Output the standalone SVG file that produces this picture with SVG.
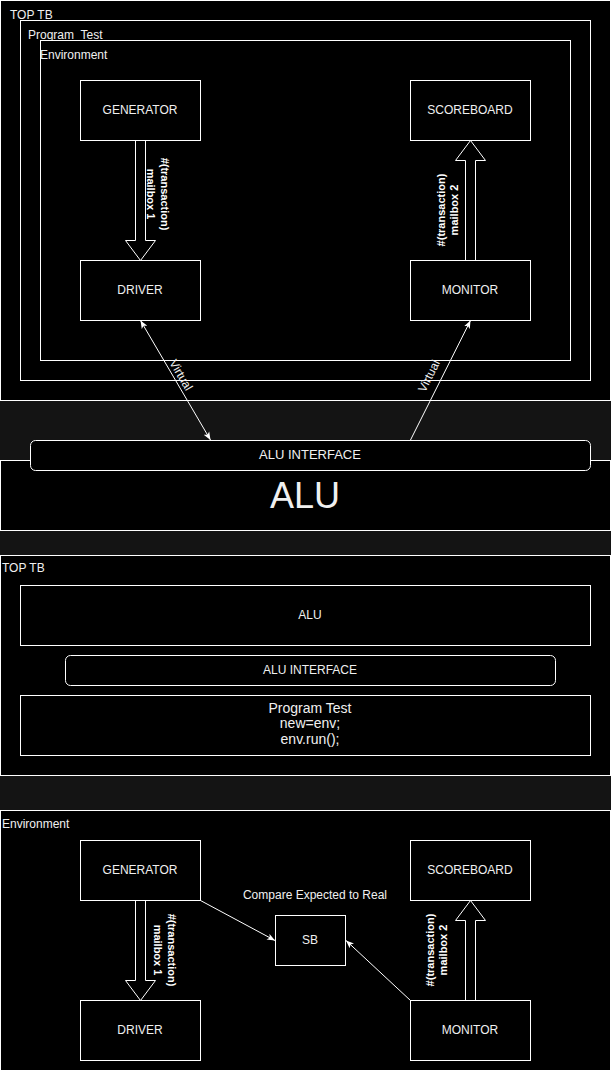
<svg xmlns="http://www.w3.org/2000/svg" width="611" height="1071" viewBox="0 0 611 1071">
<style>
.c{fill:#000;stroke:#fff;stroke-width:1}
.t{font-family:"Liberation Sans",Arial,sans-serif;font-size:12px;fill:#f0f0f0}
.m{text-anchor:middle}
.b{font-family:"Liberation Sans",Arial,sans-serif;font-size:11px;font-weight:bold;fill:#fff;text-anchor:middle}
.l{stroke:#fff;stroke-width:1;fill:none}
.fa{fill:#000;stroke:#fff;stroke-width:1}
</style>
<defs>
<marker id="arr" viewBox="0 0 10 8" refX="10" refY="4" markerWidth="8" markerHeight="7" markerUnits="userSpaceOnUse" orient="auto-start-reverse">
<path d="M0,0 L10,4 L0,8 L2.5,4 Z" fill="#fff"/>
</marker>
</defs>
<rect x="0" y="0" width="611" height="1071" fill="#141414"/>
<!-- containers -->
<g id="toptb1"><rect class="c" x="0.5" y="0.5" width="610" height="400"/><text class="t" x="10" y="19">TOP TB</text></g>
<g id="progtest1"><rect class="c" x="20.5" y="20.5" width="570" height="360"/><text class="t" x="28" y="39" xml:space="preserve">Program  Test</text></g>
<g id="env1"><rect class="c" x="40.5" y="40.5" width="530" height="320"/><text class="t" x="40" y="59">Environment</text></g>
<g id="alu1"><rect class="c" x="0.5" y="460.5" width="610" height="70"/><text class="t m" x="305" y="508" style="font-size:36px">ALU</text></g>
<g id="toptb2"><rect class="c" x="0.5" y="555.5" width="610" height="220"/><text class="t" x="2" y="572">TOP TB</text></g>
<g id="env2"><rect class="c" x="0.5" y="810.5" width="610" height="260"/><text class="t" x="2" y="828">Environment</text></g>
<!-- connectors -->
<g id="connectors">
<path class="fa" d="M135.5,140.5 L135.5,240.5 L125.5,240.5 L140.5,260.5 L155.5,240.5 L145.5,240.5 L145.5,140.5 Z"/>
<g transform="translate(158,194) rotate(90)"><text class="b" x="0" y="-3">#(transaction)</text><text class="b" x="0" y="11">mailbox 1</text></g>
<path class="fa" d="M465.5,260.5 L465.5,160.5 L455.5,160.5 L470.5,140.5 L485.5,160.5 L475.5,160.5 L475.5,260.5 Z"/>
<g transform="translate(447,210) rotate(-90)"><text class="b" x="0" y="-2">#(transaction)</text><text class="b" x="0" y="11">mailbox 2</text></g>
<line class="l" x1="140.5" y1="320.5" x2="210.5" y2="440" marker-start="url(#arr)" marker-end="url(#arr)"/>
<text class="t m" transform="translate(181,375) rotate(59.7)" x="0" y="4">Virtual</text>
<line class="l" x1="410.5" y1="440" x2="470.5" y2="320.5" marker-end="url(#arr)"/>
<text class="t m" transform="translate(429,376) rotate(-63.4)" x="0" y="4">Virtual</text>
<path class="fa" d="M135.5,900.5 L135.5,980.5 L125.5,980.5 L140.5,1000.5 L155.5,980.5 L145.5,980.5 L145.5,900.5 Z"/>
<g transform="translate(164,950) rotate(90)"><text class="b" x="0" y="-4">#(transaction)</text><text class="b" x="0" y="10">mailbox 1</text></g>
<path class="fa" d="M465.5,1000.5 L465.5,920.5 L455.5,920.5 L470.5,900.5 L485.5,920.5 L475.5,920.5 L475.5,1000.5 Z"/>
<g transform="translate(436,950) rotate(-90)"><text class="b" x="0" y="-2">#(transaction)</text><text class="b" x="0" y="11">mailbox 2</text></g>
<line class="l" x1="200.5" y1="900.5" x2="275" y2="940.5" marker-end="url(#arr)"/>
<line class="l" x1="410.5" y1="1000.5" x2="346" y2="940.5" marker-end="url(#arr)"/>
</g>
<!-- nodes -->
<g id="gen1"><rect class="c" x="80.5" y="80.5" width="120" height="60"/><text class="t m" x="140" y="114">GENERATOR</text></g>
<g id="sb1"><rect class="c" x="410.5" y="80.5" width="120" height="60"/><text class="t m" x="470" y="114">SCOREBOARD</text></g>
<g id="drv1"><rect class="c" x="80.5" y="260.5" width="120" height="60"/><text class="t m" x="140" y="294">DRIVER</text></g>
<g id="mon1"><rect class="c" x="410.5" y="260.5" width="120" height="60"/><text class="t m" x="470" y="294">MONITOR</text></g>
<g id="aluif1"><rect class="c" x="30.5" y="440.5" width="560" height="30" rx="5"/><text class="t m" x="310" y="459" style="font-size:13px">ALU INTERFACE</text></g>
<g id="alu2"><rect class="c" x="20.5" y="585.5" width="570" height="60"/><text class="t m" x="310" y="619">ALU</text></g>
<g id="aluif2"><rect class="c" x="65.5" y="655.5" width="490" height="30" rx="5"/><text class="t m" x="310" y="674">ALU INTERFACE</text></g>
<g id="progtest2"><rect class="c" x="20.5" y="695.5" width="570" height="60"/><text class="t m" style="font-size:14px" x="310" y="713">Program Test</text><text class="t m" style="font-size:14px" x="310" y="728">new=env;</text><text class="t m" style="font-size:14px" x="310" y="744">env.run();</text></g>
<g id="gen2"><rect class="c" x="80.5" y="840.5" width="120" height="60"/><text class="t m" x="140" y="874">GENERATOR</text></g>
<g id="sb2"><rect class="c" x="410.5" y="840.5" width="120" height="60"/><text class="t m" x="470" y="874">SCOREBOARD</text></g>
<g id="drv2"><rect class="c" x="80.5" y="1000.5" width="120" height="60"/><text class="t m" x="140" y="1034">DRIVER</text></g>
<g id="mon2"><rect class="c" x="410.5" y="1000.5" width="120" height="60"/><text class="t m" x="470" y="1034">MONITOR</text></g>
<g id="sbbox"><rect class="c" x="275.5" y="915.5" width="70" height="50"/><text class="t m" x="310" y="944">SB</text></g>
<g id="cmplabel"><text class="t m" x="315" y="899">Compare Expected to Real</text></g>
</svg>
